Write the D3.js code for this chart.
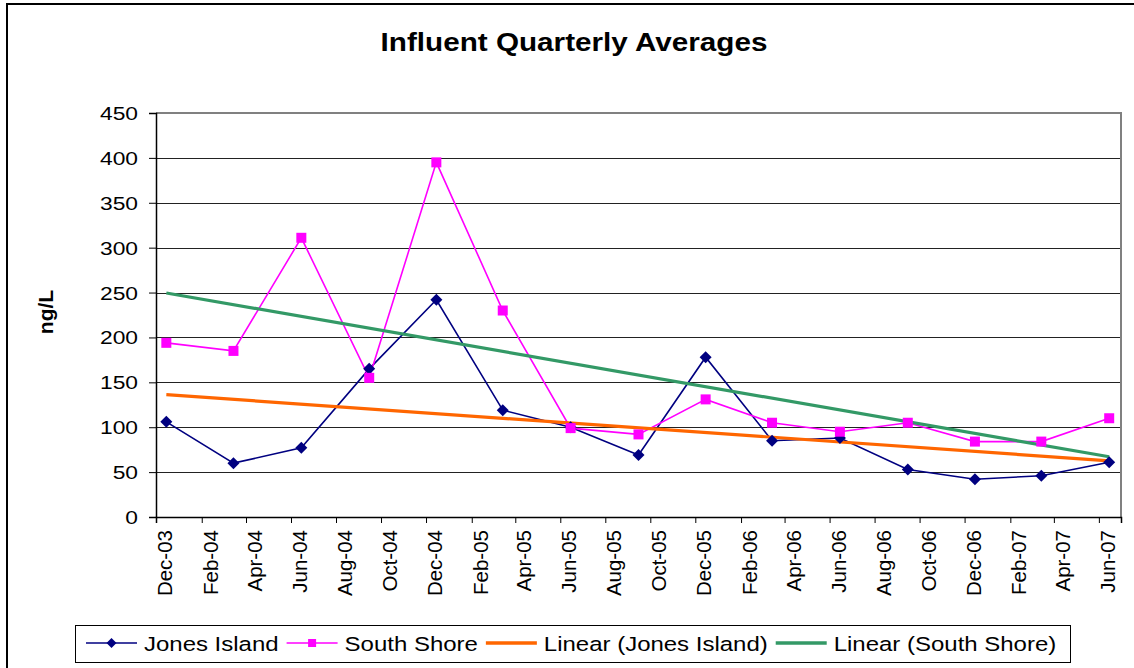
<!DOCTYPE html>
<html><head><meta charset="utf-8">
<script src="https://cdn.jsdelivr.net/npm/d3@7"></script>
<style>
body{margin:0;background:#fff}
svg{display:block}
text{font-family:"Liberation Sans",Arial,sans-serif;fill:#000}
</style></head>
<body><svg id="c" width="1134" height="668"></svg>
<script>
// ---- data ----
const sampleDates = ["2003-12-15","2004-03-15","2004-06-15","2004-09-15","2004-12-15","2005-03-15","2005-06-15","2005-09-15","2005-12-15","2006-03-15","2006-06-15","2006-09-15","2006-12-15","2007-03-15","2007-06-15"];
const jonesIsland = [106,60,77,165,242,119,100,69,178,85,88,53,42,46,61];
const southShore  = [194,185,311,155,395,230,99,92,131,105,95,105,84,84,110];
const xTickLabels = ["Dec-03","Feb-04","Apr-04","Jun-04","Aug-04","Oct-04","Dec-04","Feb-05","Apr-05","Jun-05","Aug-05","Oct-05","Dec-05","Feb-06","Apr-06","Jun-06","Aug-06","Oct-06","Dec-06","Feb-07","Apr-07","Jun-07"];
const xDomainLabels = ["Dec-03","Jul-07"];
const yTicks = [0,50,100,150,200,250,300,350,400,450];
const seriesNames = ["Jones Island","South Shore","Linear (Jones Island)","Linear (South Shore)"];
const titleText = "Influent Quarterly Averages";
const yTitle = "ng/L";

// ---- layout ----
const L=156, R=1121, T=113, B=517;
const colors = {jones:"#000080", south:"#FF00FF", tJones:"#FF6600", tSouth:"#339966"};

const parseD = d3.timeParse("%Y-%m-%d");
const parseM = d3.timeParse("%b-%y");
const dates = sampleDates.map(parseD);

const x = d3.scaleTime().domain(xDomainLabels.map(parseM)).range([L,R]);
const y = d3.scaleLinear().domain([0,450]).range([B,T]);

const svg = d3.select("#c");

// outer border
svg.append("rect").attr("x",7).attr("y",4).attr("width",1150).attr("height",700)
  .attr("fill","none").attr("stroke","#000").attr("stroke-width",2);

// title
svg.append("text").attr("transform","translate(574,51) scale(1.12,1)")
  .attr("text-anchor","middle").attr("font-weight","bold").attr("font-size",26.5).text(titleText);

// gridlines
svg.append("g").selectAll("line").data(yTicks.filter(v=>v>0 && v<450)).join("line")
  .attr("x1",L).attr("x2",R).attr("y1",d=>Math.round(y(d))+0.5).attr("y2",d=>Math.round(y(d))+0.5)
  .attr("stroke","#222").attr("stroke-width",1);

// plot border top/right
svg.append("path").attr("d",`M${L},${T}H${R}V${B}`).attr("fill","none").attr("stroke","#808080").attr("stroke-width",2);

// y axis
const yAxis = d3.axisLeft(y).tickValues(yTicks).tickSize(7).tickFormat("");
const gy = svg.append("g").attr("transform",`translate(${L},0)`).call(yAxis);
gy.select(".domain").attr("stroke","#000").attr("stroke-width",1.5);
gy.selectAll(".tick line").attr("stroke","#000");
svg.append("g").selectAll("text").data(yTicks).join("text")
  .attr("transform",d=>`translate(138,${y(d)+7}) scale(1.2,1)`)
  .attr("text-anchor","end").attr("font-size",19).text(d=>d);

// x axis
const xTicks = xTickLabels.map(parseM);
const xAxis = d3.axisBottom(x).tickValues(xTicks).tickSize(6).tickFormat("");
const gx = svg.append("g").attr("transform",`translate(0,${B})`).call(xAxis);
gx.select(".domain").attr("stroke","#000").attr("stroke-width",1.5);
gx.selectAll(".tick line").attr("stroke","#000");
svg.append("g").selectAll("text").data(xTicks).join("text")
  .attr("transform",(d)=>`translate(${x(d)+16},530) rotate(-90)`)
  .attr("text-anchor","end").attr("font-size",20.5).text((d,i)=>xTickLabels[i]);

// y title
svg.append("text").attr("transform","translate(53,312) rotate(-90)")
  .attr("text-anchor","middle").attr("font-weight","bold").attr("font-size",21).text(yTitle);

// series lines
const line = d3.line().x((d,i)=>x(dates[i])).y(d=>y(d));
svg.append("path").datum(jonesIsland).attr("d",line).attr("fill","none").attr("stroke",colors.jones).attr("stroke-width",1.6);
svg.append("path").datum(southShore).attr("d",line).attr("fill","none").attr("stroke",colors.south).attr("stroke-width",1.6);

// trendlines (least squares on point index)
function fit(vals){
  const n=vals.length, xs=d3.range(n);
  const mx=d3.mean(xs), my=d3.mean(vals);
  const b=d3.sum(xs,(xi,i)=>(xi-mx)*(vals[i]-my))/d3.sum(xs,xi=>(xi-mx)**2);
  const a=my-b*mx;
  return [a, a+b*(n-1)];
}
[[jonesIsland,colors.tJones],[southShore,colors.tSouth]].forEach(([vals,c])=>{
  const [y0,y1]=fit(vals);
  svg.append("line").attr("x1",x(dates[0])).attr("x2",x(dates[dates.length-1]))
    .attr("y1",y(y0)).attr("y2",y(y1)).attr("stroke",c).attr("stroke-width",3.2);
});

// markers
const diamond = s=>`M0,${-s}L${s},0L0,${s}L${-s},0Z`;
svg.append("g").selectAll("path").data(jonesIsland).join("path")
  .attr("transform",(d,i)=>`translate(${x(dates[i])},${y(d)})`).attr("d",diamond(6)).attr("fill",colors.jones);
svg.append("g").selectAll("rect").data(southShore).join("rect")
  .attr("x",(d,i)=>x(dates[i])-5).attr("y",d=>y(d)-5).attr("width",10).attr("height",10).attr("fill",colors.south);

// legend
const lg = svg.append("g");
lg.append("rect").attr("x",75.5).attr("y",625.5).attr("width",995).attr("height",37)
  .attr("fill","#fff").attr("stroke","#000").attr("stroke-width",1);
const legendItems = [
  {name:seriesNames[0], color:colors.jones, w:1.6, marker:"diamond"},
  {name:seriesNames[1], color:colors.south, w:1.6, marker:"square"},
  {name:seriesNames[2], color:colors.tJones, w:3.5, marker:null},
  {name:seriesNames[3], color:colors.tSouth, w:3.5, marker:null}
];
let cx = 86; const ly = 643, sx = 1.17;
legendItems.forEach(it=>{
  lg.append("line").attr("x1",cx).attr("x2",cx+51).attr("y1",ly).attr("y2",ly).attr("stroke",it.color).attr("stroke-width",it.w);
  if(it.marker==="diamond") lg.append("path").attr("transform",`translate(${cx+25.5},${ly})`).attr("d",diamond(5)).attr("fill",it.color);
  if(it.marker==="square") lg.append("rect").attr("x",cx+21.5).attr("y",ly-4).attr("width",8).attr("height",8).attr("fill",it.color);
  const t = lg.append("text").attr("transform",`translate(${cx+58},${ly+7.5}) scale(${sx},1)`).attr("font-size",20.5).text(it.name);
  const w = t.node().getComputedTextLength()*sx;
  cx += 58 + w + 8;
});
</script></body></html>
